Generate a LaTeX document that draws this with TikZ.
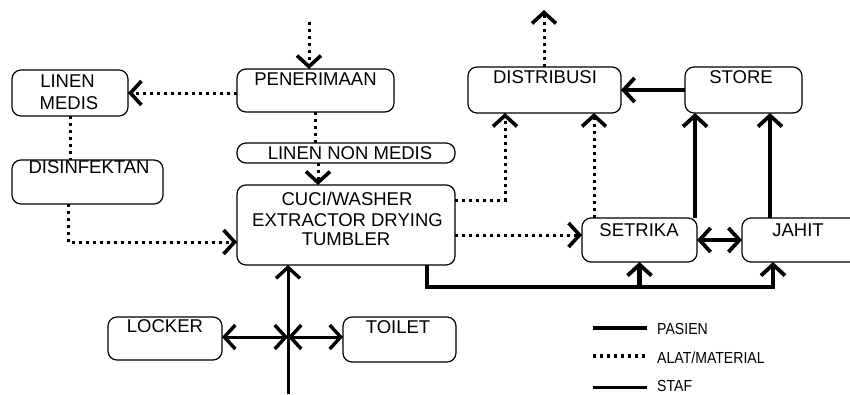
\documentclass[tikz,border=0pt]{standalone}
\usepackage{fontspec}
\setmainfont{Liberation Sans}
\newfontfamily\legendfont[FakeStretch=0.88]{Liberation Sans}
\usetikzlibrary{arrows.meta}
\begin{document}
\begin{tikzpicture}[x=1pt,y=-1pt,
  box/.style={draw, line width=1.2pt, rounded corners=9pt, inner sep=0pt, outer sep=0pt},
  lbl/.style={anchor=base, inner sep=0pt, font=\fontsize{18.5}{22}\selectfont},
  leg/.style={anchor=base west, inner sep=0pt, font=\legendfont\fontsize{16}{19}\selectfont},
  alat/.style={line width=3pt, dash pattern=on 3pt off 4pt,
    >={Straight Barb[length=11pt,width=24pt,line width=3.6pt]}},
  pasien/.style={line width=4.5pt,
    >={Straight Barb[length=11pt,width=24pt,line width=3.8pt]}},
  staf/.style={line width=3pt,
    >={Straight Barb[length=11pt,width=24pt,line width=3.4pt]}}]
\useasboundingbox (0,0) rectangle (850,394);
\clip (0,0) rectangle (850,394);

% boxes
\node[box, minimum width=116pt, minimum height=46pt] (lm)    at (70,93)    {};
\node[box, minimum width=157pt, minimum height=43pt] (pen)   at (315.5,90.5) {};
\node[box, minimum width=218pt, minimum height=20pt] (lnm)   at (346,153)  {};
\node[box, minimum width=151pt, minimum height=44pt] (dis)   at (87.5,182) {};
\node[box, minimum width=218pt, minimum height=80pt] (cuci)  at (346,225)  {};
\node[box, minimum width=153pt, minimum height=46pt] (dist)  at (544.5,90) {};
\node[box, minimum width=117pt, minimum height=46pt] (store) at (743.5,90) {};
\node[box, minimum width=115pt, minimum height=44pt] (setr)  at (639.5,240) {};
\node[box, minimum width=128pt, minimum height=44pt] (jahit) at (806,240)  {};
\node[box, minimum width=114pt, minimum height=43pt] (lock)  at (165,338.5) {};
\node[box, minimum width=113pt, minimum height=45pt] (toil)  at (399.5,339.5) {};

% box texts
\node[lbl] (lmA)   at (67.5,87)  {LINEN};
\node[lbl] (lmB)   at (69,109)   {MEDIS};
\node[lbl] (penT)  at (315.5,85) {PENERIMAAN};
\node[lbl] (lnmT)  at (350,159)  {LINEN NON MEDIS};
\node[lbl] (disT)  at (89,173)   {DISINFEKTAN};
\node[lbl] (cuA)   at (347,205)  {CUCI/WASHER};
\node[lbl] (cuB)   at (347.5,226) {EXTRACTOR DRYING};
\node[lbl] (cuC)   at (346,245)  {TUMBLER};
\node[lbl] (distT) at (545,83)   {DISTRIBUSI};
\node[lbl] (stT)   at (741,83)   {STORE};
\node[lbl] (seT)   at (639,236)  {SETRIKA};
\node[lbl] (jaT)   at (798,236)  {JAHIT};
\node[lbl] (loT)   at (165,332)  {LOCKER};
\node[lbl] (toT)   at (398,333)  {TOILET};

% free ends
\coordinate (inTop)  at (309,22);
\coordinate (outTop) at (544,10);
\coordinate (stafIn) at (288,394);
\coordinate (hub)    at (288,337);
\coordinate (rail)   at ([shift={(81pt,-22pt)}]cuci.south);

% material flow
\draw[alat,->] (inTop) -- (pen.north -| inTop);
\draw[alat,->] (pen.west |- lm.east) -- (lm.east);
\draw[alat] (lm.south) -- (lm.south |- dis.north);
\draw[alat] (pen.south) -- (pen.south |- lnm.north);
\draw[alat,->] ([xshift=-28pt]lnm.south) -- ([xshift=-28pt]cuci.north);
\draw[alat,->] ([xshift=-19.5pt]dis.south) |- ([yshift=-17pt]cuci.west);
\draw[alat,->] ([yshift=25pt]cuci.east) -| ([xshift=-39.5pt]dist.south);
\draw[alat,->] ([xshift=-45.5pt]setr.north) -- ([xshift=-45.5pt]setr.north |- dist.south);
\draw[alat,->] (dist.north -| outTop) -- (outTop);
\draw[alat,->] ([yshift=-10pt]cuci.east) -- ([yshift=-10pt]cuci.east -| setr.west);

% patient flow
\draw[pasien,->] (store.west |- dist.east) -- (dist.east);
\draw[pasien,->] ([xshift=55.5pt]setr.north) -- ([xshift=55.5pt]setr.north |- store.south);
\draw[pasien,line width=3.5pt,->] ([xshift=-36pt]jahit.north) -- ([xshift=-36pt]jahit.north |- store.south);
\draw[pasien,line width=4pt,<->] (setr.east) -- (jahit.west);
\draw[pasien,->] ([xshift=81pt]cuci.south) -- (rail) -| ([xshift=-33pt]jahit.south);
\draw[pasien,->] (rail -| setr.south) -- (setr.south);

% staff flow
\draw[staf,->] (stafIn) -- (cuci.south -| stafIn);
\draw[staf,<->] (lock.east |- hub) -- (hub);
\draw[staf,<->] (hub) -- (toil.west |- hub);

% legend
\coordinate (lgPa) at (593,328); \coordinate (lgPb) at (647,328);
\coordinate (lgAa) at (593,356); \coordinate (lgAb) at (647,356);
\coordinate (lgSa) at (593,387); \coordinate (lgSb) at (647,387);
\draw[pasien] (lgPa) -- (lgPb);
\draw[alat, line width=3.5pt] (lgAa) -- (lgAb);
\draw[staf] (lgSa) -- (lgSb);
\node[leg] (lgP) at (657,334) {PASIEN};
\node[leg] (lgA) at (657,363) {ALAT/MATERIAL};
\node[leg] (lgS) at (657,391) {STAF};
\end{tikzpicture}
\end{document}
